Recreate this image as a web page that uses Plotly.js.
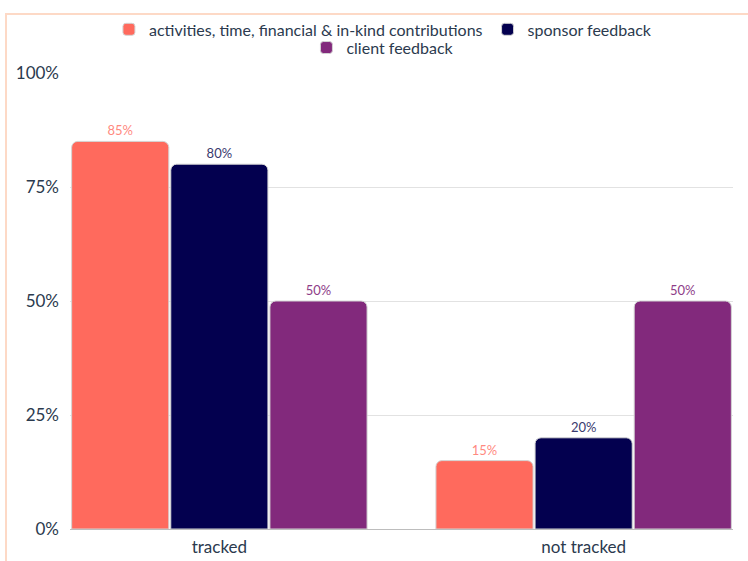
<!DOCTYPE html>
<html>
<head>
<meta charset="utf-8">
<script src="https://cdn.plot.ly/plotly-3.0.1.min.js"></script>
<style>
  html, body { margin: 0; padding: 0; background: #fff; }
  #wrap { position: relative; width: 748px; height: 561px; }
  #frame { position: absolute; left: 5px; top: 13px; right: 0; bottom: 0;
           border-left: 2px solid #FDD9C6; border-top: 2px solid #FDD9C6; pointer-events: none; z-index: 5; }
  #chart { width: 748px; height: 561px; }
</style>
</head>
<body>
<div id="wrap">
  <div id="chart"></div>
  <div id="frame"></div>
</div>
<script>
const categories = ['tracked', 'not tracked'];
const seriesNames = ['activities, time, financial & in-kind contributions', 'sponsor feedback', 'client feedback'];
const contributions = [85, 15];
const sponsorFeedback = [80, 20];
const clientFeedback = [50, 50];
const yTickValues = [0, 25, 50, 75, 100];
const yTickLabels = ['0%', '25%', '50%', '75%', '100%'];

const barColors = ['#FF6A5D', '#03004F', '#82297C'];
const labelColors = ['#FF8A7F', '#3A3A6E', '#8E3D88'];
const legendRefs = ['legend', 'legend', 'legend2'];
const seriesValues = [contributions, sponsorFeedback, clientFeedback];

const traces = seriesValues.map((vals, i) => ({
  type: 'bar',
  name: seriesNames[i],
  legend: legendRefs[i],
  x: categories,
  y: vals,
  text: vals.map(v => v + '%'),
  textposition: 'outside',
  cliponaxis: false,
  textfont: { family: 'Lato, sans-serif', size: 13, color: labelColors[i] },
  marker: { color: barColors[i], cornerradius: 6, line: { color: '#d4d4d4', width: 1 } },
  hoverinfo: 'skip'
}));

const legendFont = { family: 'Lato, sans-serif', size: 16, color: '#2B3A4E' };

const layout = {
  width: 748, height: 561,
  margin: { l: 70, r: 15, t: 73, b: 32 },
  paper_bgcolor: '#fff', plot_bgcolor: '#fff',
  font: { family: 'Lato, sans-serif', color: '#2B3A4E' },
  barmode: 'group',
  bargap: 0.1836,
  bargroupgap: 0.02,
  showlegend: true,
  legend: {
    orientation: 'h', x: 0.472, xanchor: 'center', y: 1.0956, yanchor: 'middle',
    bgcolor: 'rgba(0,0,0,0)', font: legendFont, itemwidth: 30, tracegroupgap: 0
  },
  legend2: {
    orientation: 'h', x: 0.472, xanchor: 'center', y: 1.0556, yanchor: 'middle',
    bgcolor: 'rgba(0,0,0,0)', font: legendFont, itemwidth: 30, tracegroupgap: 0
  },
  xaxis: {
    type: 'category', range: [-0.41, 1.41], showgrid: false, zeroline: false,
    showline: false, ticks: '', ticklabelstandoff: 6,
    tickfont: { family: 'Lato, sans-serif', size: 17, color: '#2B3A4E' },
    fixedrange: true
  },
  yaxis: {
    range: [0, 100], tickvals: yTickValues, ticktext: yTickLabels,
    showgrid: true, gridcolor: '#E2E2E2', gridwidth: 1,
    zeroline: true, zerolinecolor: '#BDBDBD', zerolinewidth: 1,
    showline: false, ticks: '', ticklabelstandoff: 10,
    tickfont: { family: 'Lato, sans-serif', size: 17, color: '#2B3A4E' },
    fixedrange: true
  }
};

Plotly.newPlot('chart', traces, layout, { displayModeBar: false, staticPlot: true });
</script>
</body>
</html>
